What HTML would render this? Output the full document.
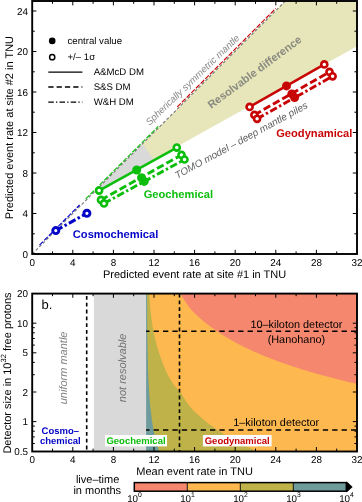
<!DOCTYPE html>
<html><head><meta charset="utf-8"><title>fig</title><style>html,body{margin:0;padding:0;background:#fff}body{width:362px;height:502px;overflow:hidden;font-family:"Liberation Sans",sans-serif}</style></head><body>
<svg width="362" height="502" viewBox="0 0 362 502" style="display:block;will-change:transform" text-rendering="geometricPrecision" font-family="Liberation Sans, sans-serif">
<rect width="362" height="502" fill="#fff"/>
<defs><clipPath id="ct"><rect x="32.2" y="1.2" width="324.8" height="252.8"/></clipPath>
<clipPath id="cb"><rect x="32.2" y="293.6" width="324.8" height="157.6"/></clipPath></defs>
<polygon points="92.8,193.5 285.2,1.2 357.0,1.2 357.0,46.2" fill="#e6e6ba"/>
<polygon points="92.8,193.5 142.4,143.9 153.6,159.6" fill="#d9d9d9"/>
<g clip-path="url(#ct)">
<line x1="32.2" y1="254.0" x2="285.2" y2="1.2" stroke="#787878" stroke-width="1.1" stroke-dasharray="3 2"/>
<line x1="39.5" y1="245.1" x2="79.6" y2="205.0" stroke="#0505c8" stroke-width="1.15" stroke-dasharray="5 1.6"/>
<line x1="85.7" y1="198.9" x2="158.3" y2="126.4" stroke="#0cbe0c" stroke-width="1.15" stroke-dasharray="5 1.6"/>
<line x1="177.3" y1="106.9" x2="275.7" y2="8.5" stroke="#c80505" stroke-width="1.15" stroke-dasharray="5 1.6"/>
</g>
<line x1="249.6" y1="106.9" x2="324.3" y2="64.4" stroke="#c80505" stroke-width="2.5"/>
<circle cx="249.6" cy="106.9" r="3.05" fill="#fff" stroke="#c80505" stroke-width="2.6"/>
<circle cx="324.3" cy="64.4" r="3.05" fill="#fff" stroke="#c80505" stroke-width="2.6"/>
<circle cx="286.5" cy="85.9" r="4.5" fill="#c80505"/>
<line x1="254.4" y1="114.9" x2="329.5" y2="71.9" stroke="#c80505" stroke-width="2.9" stroke-dasharray="7.5 3.2"/>
<circle cx="254.4" cy="114.9" r="3.05" fill="#fff" stroke="#c80505" stroke-width="2.6"/>
<circle cx="329.5" cy="71.9" r="3.05" fill="#fff" stroke="#c80505" stroke-width="2.6"/>
<circle cx="291.8" cy="93.9" r="4.5" fill="#c80505"/>
<line x1="257.1" y1="118.8" x2="332.6" y2="76.3" stroke="#c80505" stroke-width="2.9" stroke-dasharray="7.5 2.6 2.4 2.6"/>
<circle cx="257.1" cy="118.8" r="3.05" fill="#fff" stroke="#c80505" stroke-width="2.6"/>
<circle cx="332.6" cy="76.3" r="3.05" fill="#fff" stroke="#c80505" stroke-width="2.6"/>
<circle cx="294.6" cy="97.6" r="4.5" fill="#c80505"/>
<line x1="99.1" y1="190.6" x2="176.8" y2="147.6" stroke="#0cbe0c" stroke-width="2.5"/>
<circle cx="99.1" cy="190.6" r="3.05" fill="#fff" stroke="#0cbe0c" stroke-width="2.6"/>
<circle cx="176.8" cy="147.6" r="3.05" fill="#fff" stroke="#0cbe0c" stroke-width="2.6"/>
<circle cx="136.7" cy="170.0" r="4.5" fill="#0cbe0c"/>
<line x1="101.0" y1="199.9" x2="181.5" y2="154.9" stroke="#0cbe0c" stroke-width="2.9" stroke-dasharray="7.5 3.2"/>
<circle cx="101.0" cy="199.9" r="3.05" fill="#fff" stroke="#0cbe0c" stroke-width="2.6"/>
<circle cx="181.5" cy="154.9" r="3.05" fill="#fff" stroke="#0cbe0c" stroke-width="2.6"/>
<circle cx="141.5" cy="177.7" r="4.5" fill="#0cbe0c"/>
<line x1="104.0" y1="203.4" x2="184.5" y2="159.5" stroke="#0cbe0c" stroke-width="2.9" stroke-dasharray="7.5 2.6 2.4 2.6"/>
<circle cx="104.0" cy="203.4" r="3.05" fill="#fff" stroke="#0cbe0c" stroke-width="2.6"/>
<circle cx="184.5" cy="159.5" r="3.05" fill="#fff" stroke="#0cbe0c" stroke-width="2.6"/>
<circle cx="144.2" cy="181.4" r="4.5" fill="#0cbe0c"/>
<line x1="55.8" y1="230.6" x2="86.9" y2="213.3" stroke="#0505c8" stroke-width="3.1" stroke-dasharray="7.5 2.5 2.5 2.5"/>
<circle cx="55.8" cy="230.6" r="3.05" fill="#fff" stroke="#0505c8" stroke-width="2.9"/>
<circle cx="86.9" cy="213.3" r="3.05" fill="#fff" stroke="#0505c8" stroke-width="2.9"/>
<rect x="32.2" y="1.0" width="324.8" height="253.0" fill="none" stroke="#000" stroke-width="1.9"/>
<line x1="52.5" y1="254.0" x2="52.5" y2="251.4" stroke="#000" stroke-width="1.0"/>
<line x1="52.5" y1="1.2" x2="52.5" y2="3.8" stroke="#000" stroke-width="1.0"/>
<line x1="72.8" y1="254.0" x2="72.8" y2="249.8" stroke="#000" stroke-width="1.0"/>
<line x1="72.8" y1="1.2" x2="72.8" y2="5.4" stroke="#000" stroke-width="1.0"/>
<line x1="93.1" y1="254.0" x2="93.1" y2="251.4" stroke="#000" stroke-width="1.0"/>
<line x1="93.1" y1="1.2" x2="93.1" y2="3.8" stroke="#000" stroke-width="1.0"/>
<line x1="113.4" y1="254.0" x2="113.4" y2="249.8" stroke="#000" stroke-width="1.0"/>
<line x1="113.4" y1="1.2" x2="113.4" y2="5.4" stroke="#000" stroke-width="1.0"/>
<line x1="133.7" y1="254.0" x2="133.7" y2="251.4" stroke="#000" stroke-width="1.0"/>
<line x1="133.7" y1="1.2" x2="133.7" y2="3.8" stroke="#000" stroke-width="1.0"/>
<line x1="154.0" y1="254.0" x2="154.0" y2="249.8" stroke="#000" stroke-width="1.0"/>
<line x1="154.0" y1="1.2" x2="154.0" y2="5.4" stroke="#000" stroke-width="1.0"/>
<line x1="174.3" y1="254.0" x2="174.3" y2="251.4" stroke="#000" stroke-width="1.0"/>
<line x1="174.3" y1="1.2" x2="174.3" y2="3.8" stroke="#000" stroke-width="1.0"/>
<line x1="194.6" y1="254.0" x2="194.6" y2="249.8" stroke="#000" stroke-width="1.0"/>
<line x1="194.6" y1="1.2" x2="194.6" y2="5.4" stroke="#000" stroke-width="1.0"/>
<line x1="214.9" y1="254.0" x2="214.9" y2="251.4" stroke="#000" stroke-width="1.0"/>
<line x1="214.9" y1="1.2" x2="214.9" y2="3.8" stroke="#000" stroke-width="1.0"/>
<line x1="235.2" y1="254.0" x2="235.2" y2="249.8" stroke="#000" stroke-width="1.0"/>
<line x1="235.2" y1="1.2" x2="235.2" y2="5.4" stroke="#000" stroke-width="1.0"/>
<line x1="255.5" y1="254.0" x2="255.5" y2="251.4" stroke="#000" stroke-width="1.0"/>
<line x1="255.5" y1="1.2" x2="255.5" y2="3.8" stroke="#000" stroke-width="1.0"/>
<line x1="275.8" y1="254.0" x2="275.8" y2="249.8" stroke="#000" stroke-width="1.0"/>
<line x1="275.8" y1="1.2" x2="275.8" y2="5.4" stroke="#000" stroke-width="1.0"/>
<line x1="296.1" y1="254.0" x2="296.1" y2="251.4" stroke="#000" stroke-width="1.0"/>
<line x1="296.1" y1="1.2" x2="296.1" y2="3.8" stroke="#000" stroke-width="1.0"/>
<line x1="316.4" y1="254.0" x2="316.4" y2="249.8" stroke="#000" stroke-width="1.0"/>
<line x1="316.4" y1="1.2" x2="316.4" y2="5.4" stroke="#000" stroke-width="1.0"/>
<line x1="336.7" y1="254.0" x2="336.7" y2="251.4" stroke="#000" stroke-width="1.0"/>
<line x1="336.7" y1="1.2" x2="336.7" y2="3.8" stroke="#000" stroke-width="1.0"/>
<line x1="32.2" y1="233.8" x2="34.8" y2="233.8" stroke="#000" stroke-width="1.0"/>
<line x1="357.0" y1="233.8" x2="354.4" y2="233.8" stroke="#000" stroke-width="1.0"/>
<line x1="32.2" y1="213.5" x2="36.4" y2="213.5" stroke="#000" stroke-width="1.0"/>
<line x1="357.0" y1="213.5" x2="352.8" y2="213.5" stroke="#000" stroke-width="1.0"/>
<line x1="32.2" y1="193.2" x2="34.8" y2="193.2" stroke="#000" stroke-width="1.0"/>
<line x1="357.0" y1="193.2" x2="354.4" y2="193.2" stroke="#000" stroke-width="1.0"/>
<line x1="32.2" y1="173.0" x2="36.4" y2="173.0" stroke="#000" stroke-width="1.0"/>
<line x1="357.0" y1="173.0" x2="352.8" y2="173.0" stroke="#000" stroke-width="1.0"/>
<line x1="32.2" y1="152.8" x2="34.8" y2="152.8" stroke="#000" stroke-width="1.0"/>
<line x1="357.0" y1="152.8" x2="354.4" y2="152.8" stroke="#000" stroke-width="1.0"/>
<line x1="32.2" y1="132.5" x2="36.4" y2="132.5" stroke="#000" stroke-width="1.0"/>
<line x1="357.0" y1="132.5" x2="352.8" y2="132.5" stroke="#000" stroke-width="1.0"/>
<line x1="32.2" y1="112.2" x2="34.8" y2="112.2" stroke="#000" stroke-width="1.0"/>
<line x1="357.0" y1="112.2" x2="354.4" y2="112.2" stroke="#000" stroke-width="1.0"/>
<line x1="32.2" y1="92.0" x2="36.4" y2="92.0" stroke="#000" stroke-width="1.0"/>
<line x1="357.0" y1="92.0" x2="352.8" y2="92.0" stroke="#000" stroke-width="1.0"/>
<line x1="32.2" y1="71.8" x2="34.8" y2="71.8" stroke="#000" stroke-width="1.0"/>
<line x1="357.0" y1="71.8" x2="354.4" y2="71.8" stroke="#000" stroke-width="1.0"/>
<line x1="32.2" y1="51.5" x2="36.4" y2="51.5" stroke="#000" stroke-width="1.0"/>
<line x1="357.0" y1="51.5" x2="352.8" y2="51.5" stroke="#000" stroke-width="1.0"/>
<line x1="32.2" y1="31.2" x2="34.8" y2="31.2" stroke="#000" stroke-width="1.0"/>
<line x1="357.0" y1="31.2" x2="354.4" y2="31.2" stroke="#000" stroke-width="1.0"/>
<line x1="32.2" y1="11.0" x2="36.4" y2="11.0" stroke="#000" stroke-width="1.0"/>
<line x1="357.0" y1="11.0" x2="352.8" y2="11.0" stroke="#000" stroke-width="1.0"/>
<text x="32.2" y="266.4" font-size="9.9" text-anchor="middle">0</text>
<text x="72.8" y="266.4" font-size="9.9" text-anchor="middle">4</text>
<text x="113.4" y="266.4" font-size="9.9" text-anchor="middle">8</text>
<text x="154.0" y="266.4" font-size="9.9" text-anchor="middle">12</text>
<text x="194.6" y="266.4" font-size="9.9" text-anchor="middle">16</text>
<text x="235.2" y="266.4" font-size="9.9" text-anchor="middle">20</text>
<text x="275.8" y="266.4" font-size="9.9" text-anchor="middle">24</text>
<text x="316.4" y="266.4" font-size="9.9" text-anchor="middle">28</text>
<text x="357.0" y="266.4" font-size="9.9" text-anchor="middle">32</text>
<text x="28.0" y="257.6" font-size="9.9" text-anchor="end">0</text>
<text x="28.0" y="217.1" font-size="9.9" text-anchor="end">4</text>
<text x="28.0" y="176.6" font-size="9.9" text-anchor="end">8</text>
<text x="28.0" y="136.1" font-size="9.9" text-anchor="end">12</text>
<text x="28.0" y="95.6" font-size="9.9" text-anchor="end">16</text>
<text x="28.0" y="55.1" font-size="9.9" text-anchor="end">20</text>
<text x="28.0" y="14.6" font-size="9.9" text-anchor="end">24</text>
<text x="194.6" y="277.5" font-size="11" text-anchor="middle">Predicted event rate at site #1 in TNU</text>
<text transform="translate(13.3,127.6) rotate(-90)" font-size="11" text-anchor="middle">Predicted event rate at site #2 in TNU</text>
<circle cx="52.2" cy="40.9" r="3.3" fill="#000"/>
<circle cx="52.2" cy="57.2" r="2.6" fill="#fff" stroke="#000" stroke-width="1.5"/>
<text x="67.5" y="43.9" font-size="9.65">central value</text>
<text x="67.5" y="59.8" font-size="9.65">+/– 1σ</text>
<line x1="48.3" y1="72.1" x2="82.4" y2="72.1" stroke="#000" stroke-width="1.3"/>
<line x1="48.3" y1="87" x2="82.4" y2="87" stroke="#000" stroke-width="1.3" stroke-dasharray="5.3 3"/>
<line x1="48.3" y1="102.2" x2="82.4" y2="102.2" stroke="#000" stroke-width="1.3" stroke-dasharray="5.5 2.2 1.3 2.2"/>
<text x="93.7" y="75.3" font-size="9.65">A&amp;McD DM</text>
<text x="93.7" y="90.2" font-size="9.65">S&amp;S DM</text>
<text x="93.7" y="105.4" font-size="9.65">W&amp;H DM</text>
<text transform="translate(149.4,126.0) rotate(-43.9)" font-size="9.7" font-style="italic" fill="#8c8c8c">Spherically symmetric mantle</text>
<text transform="translate(211.2,109.0) rotate(-36.6)" font-size="11" font-weight="bold" fill="#8a8a80">Resolvable difference</text>
<text transform="translate(177.3,178.9) rotate(-28.6)" font-size="10" font-style="italic" fill="#606060">TOMO model – deep mantle piles</text>
<text x="276.2" y="137.2" font-size="11.15" font-weight="bold" fill="#c80505">Geodynamical</text>
<text x="143.7" y="198.2" font-size="11.15" font-weight="bold" fill="#0cbe0c">Geochemical</text>
<text x="72.8" y="238.0" font-size="11.15" font-weight="bold" fill="#0505c8">Cosmochemical</text>
<g clip-path="url(#cb)">
<rect x="93.9" y="293.6" width="52.2" height="157.6" fill="#d9d9d9"/>
<rect x="146.1" y="293.6" width="210.9" height="157.6" fill="#6e9b9b"/>
<polygon points="146.2,288.6 146.2,288.6 146.2,288.6 146.3,288.6 146.4,288.6 146.5,288.6 146.6,288.6 146.7,288.6 146.8,288.6 146.9,288.6 147.0,288.6 147.1,305.1 147.2,321.0 147.3,331.5 147.4,339.3 147.5,345.6 147.6,350.9 147.7,355.4 147.8,359.4 147.9,362.9 147.9,366.1 148.0,369.0 148.1,371.7 148.2,374.2 148.3,376.5 148.4,378.7 148.5,380.8 148.6,382.7 148.7,384.5 148.8,386.3 148.9,388.0 149.0,389.5 149.1,391.1 149.2,392.5 149.3,393.9 149.4,395.3 149.5,396.6 149.6,397.9 149.7,399.1 149.7,400.3 149.8,401.4 149.9,402.5 150.0,403.6 150.1,404.6 150.2,405.7 150.3,406.6 150.4,407.6 150.5,408.6 150.6,409.5 150.7,410.4 150.8,411.2 150.9,412.1 151.0,412.9 151.1,413.7 151.2,414.5 151.3,415.3 151.4,416.1 151.5,416.8 151.5,417.6 151.6,418.3 151.7,419.0 151.8,419.6 151.9,420.3 152.0,421.0 152.1,421.6 152.2,422.3 152.3,422.9 152.4,423.5 152.5,424.1 152.6,424.7 152.7,425.2 152.8,425.8 152.9,426.3 153.0,426.9 153.1,427.4 153.2,427.9 153.3,428.5 153.3,429.0 153.4,429.5 153.5,430.0 153.6,430.4 153.7,430.9 153.8,431.4 153.9,431.8 154.0,432.3 154.1,432.7 154.2,433.2 154.3,433.6 154.4,434.0 154.5,434.5 154.6,434.9 154.7,435.3 154.8,435.7 154.9,436.1 155.0,436.5 155.1,436.9 155.1,437.3 155.2,437.6 155.3,438.0 155.4,438.4 155.5,438.8 155.6,439.1 155.7,439.5 155.8,439.9 155.9,440.2 156.0,440.6 156.1,440.9 156.2,441.3 156.3,441.6 156.4,442.0 156.5,442.3 156.6,442.7 156.7,443.0 156.8,443.4 156.9,443.7 156.9,444.0 157.0,444.4 157.1,444.7 157.2,445.0 157.3,445.3 157.4,445.7 157.5,446.0 157.6,446.3 157.7,446.6 157.8,446.9 157.9,447.3 158.0,447.6 158.1,447.9 158.2,448.2 158.3,448.5 158.4,448.8 158.5,449.1 158.6,449.4 158.7,449.7 158.7,450.1 158.8,450.4 158.9,450.7 159.0,451.0 159.1,451.3 159.2,451.5 159.3,451.8 159.4,452.1 159.5,452.4 159.6,452.7 159.7,453.0 159.8,453.3 159.9,453.6 160.0,453.9 160.1,454.2 160.2,454.4 160.3,454.7 160.4,455.0 160.5,455.3 160.5,455.5 160.6,455.8 160.7,456.1 160.8,456.2 160.9,456.2 161.0,456.2 161.1,456.2 161.2,456.2 161.3,456.2 161.4,456.2 161.5,456.2 161.6,456.2 161.7,456.2 161.8,456.2 161.9,456.2 162.0,456.2 162.1,456.2 162.2,456.2 162.3,456.2 162.3,456.2 162.4,456.2 162.5,456.2 162.6,456.2 162.7,456.2 162.8,456.2 162.9,456.2 163.0,456.2 163.1,456.2 163.2,456.2 163.3,456.2 163.4,456.2 163.5,456.2 163.6,456.2 163.7,456.2 163.8,456.2 163.9,456.2 164.0,456.2 164.1,456.2 164.1,456.2 164.2,456.2 164.3,456.2 164.4,456.2 164.5,456.2 164.6,456.2 164.7,456.2 164.8,456.2 164.9,456.2 165.0,456.2 165.0,456.2 166.0,456.2 166.9,456.2 167.9,456.2 168.9,456.2 169.8,456.2 170.8,456.2 171.8,456.2 172.7,456.2 173.7,456.2 174.6,456.2 175.6,456.2 176.6,456.2 177.5,456.2 178.5,456.2 179.5,456.2 180.4,456.2 181.4,456.2 182.4,456.2 183.3,456.2 184.3,456.2 185.3,456.2 186.2,456.2 187.2,456.2 188.2,456.2 189.1,456.2 190.1,456.2 191.1,456.2 192.0,456.2 193.0,456.2 193.9,456.2 194.9,456.2 195.9,456.2 196.8,456.2 197.8,456.2 198.8,456.2 199.7,456.2 200.7,456.2 201.7,456.2 202.6,456.2 203.6,456.2 204.6,456.2 205.5,456.2 206.5,456.2 207.5,456.2 208.4,456.2 209.4,456.2 210.3,456.2 211.3,456.2 212.3,456.2 213.2,456.2 214.2,456.2 215.2,456.2 216.1,456.2 217.1,456.2 218.1,456.2 219.0,456.2 220.0,456.2 221.0,456.2 221.9,456.2 222.9,456.2 223.9,456.2 224.8,456.2 225.8,456.2 226.7,456.2 227.7,456.2 228.7,456.2 229.6,456.2 230.6,456.2 231.6,456.2 232.5,456.2 233.5,456.2 234.5,456.2 235.4,456.2 236.4,456.2 237.4,456.2 238.3,456.2 239.3,456.2 240.3,456.2 241.2,456.2 242.2,456.2 243.2,456.2 244.1,456.2 245.1,456.2 246.0,456.2 247.0,456.2 248.0,456.2 248.9,456.2 249.9,456.2 250.9,456.2 251.8,456.2 252.8,456.2 253.8,456.2 254.7,456.2 255.7,456.2 256.7,456.2 257.6,456.2 258.6,456.2 259.6,456.2 260.5,456.2 261.5,456.2 262.4,456.2 263.4,456.2 264.4,456.2 265.3,456.2 266.3,456.2 267.3,456.2 268.2,456.2 269.2,456.2 270.2,456.2 271.1,456.2 272.1,456.2 273.1,456.2 274.0,456.2 275.0,456.2 276.0,456.2 276.9,456.2 277.9,456.2 278.8,456.2 279.8,456.2 280.8,456.2 281.7,456.2 282.7,456.2 283.7,456.2 284.6,456.2 285.6,456.2 286.6,456.2 287.5,456.2 288.5,456.2 289.5,456.2 290.4,456.2 291.4,456.2 292.4,456.2 293.3,456.2 294.3,456.2 295.3,456.2 296.2,456.2 297.2,456.2 298.1,456.2 299.1,456.2 300.1,456.2 301.0,456.2 302.0,456.2 303.0,456.2 303.9,456.2 304.9,456.2 305.9,456.2 306.8,456.2 307.8,456.2 308.8,456.2 309.7,456.2 310.7,456.2 311.7,456.2 312.6,456.2 313.6,456.2 314.5,456.2 315.5,456.2 316.5,456.2 317.4,456.2 318.4,456.2 319.4,456.2 320.3,456.2 321.3,456.2 322.3,456.2 323.2,456.2 324.2,456.2 325.2,456.2 326.1,456.2 327.1,456.2 328.1,456.2 329.0,456.2 330.0,456.2 330.9,456.2 331.9,456.2 332.9,456.2 333.8,456.2 334.8,456.2 335.8,456.2 336.7,456.2 337.7,456.2 338.7,456.2 339.6,456.2 340.6,456.2 341.6,456.2 342.5,456.2 343.5,456.2 344.5,456.2 345.4,456.2 346.4,456.2 347.4,456.2 348.3,456.2 349.3,456.2 350.2,456.2 351.2,456.2 352.2,456.2 353.1,456.2 354.1,456.2 355.1,456.2 356.0,456.2 357.0,456.2 359.0,456.2 359.0,288.6" fill="#beb248"/>
<polygon points="146.2,288.6 146.2,288.6 146.2,288.6 146.3,288.6 146.4,288.6 146.5,288.6 146.6,288.6 146.7,288.6 146.8,288.6 146.9,288.6 147.0,288.6 147.1,288.6 147.2,288.6 147.3,288.6 147.4,288.6 147.5,288.6 147.6,288.6 147.7,288.6 147.8,288.6 147.9,288.6 147.9,288.6 148.0,288.6 148.1,288.6 148.2,288.6 148.3,288.6 148.4,288.6 148.5,288.6 148.6,288.6 148.7,288.6 148.8,288.6 148.9,289.6 149.0,291.1 149.1,292.7 149.2,294.1 149.3,295.5 149.4,296.9 149.5,298.2 149.6,299.5 149.7,300.7 149.7,301.9 149.8,303.0 149.9,304.1 150.0,305.2 150.1,306.2 150.2,307.3 150.3,308.2 150.4,309.2 150.5,310.2 150.6,311.1 150.7,312.0 150.8,312.8 150.9,313.7 151.0,314.5 151.1,315.3 151.2,316.1 151.3,316.9 151.4,317.7 151.5,318.4 151.5,319.2 151.6,319.9 151.7,320.6 151.8,321.2 151.9,321.9 152.0,322.6 152.1,323.2 152.2,323.9 152.3,324.5 152.4,325.1 152.5,325.7 152.6,326.3 152.7,326.8 152.8,327.4 152.9,327.9 153.0,328.5 153.1,329.0 153.2,329.5 153.3,330.1 153.3,330.6 153.4,331.1 153.5,331.6 153.6,332.0 153.7,332.5 153.8,333.0 153.9,333.4 154.0,333.9 154.1,334.3 154.2,334.8 154.3,335.2 154.4,335.6 154.5,336.1 154.6,336.5 154.7,336.9 154.8,337.3 154.9,337.7 155.0,338.1 155.1,338.5 155.1,338.9 155.2,339.2 155.3,339.6 155.4,340.0 155.5,340.4 155.6,340.7 155.7,341.1 155.8,341.5 155.9,341.8 156.0,342.2 156.1,342.5 156.2,342.9 156.3,343.2 156.4,343.6 156.5,343.9 156.6,344.3 156.7,344.6 156.8,345.0 156.9,345.3 156.9,345.6 157.0,346.0 157.1,346.3 157.2,346.6 157.3,346.9 157.4,347.3 157.5,347.6 157.6,347.9 157.7,348.2 157.8,348.5 157.9,348.9 158.0,349.2 158.1,349.5 158.2,349.8 158.3,350.1 158.4,350.4 158.5,350.7 158.6,351.0 158.7,351.3 158.7,351.7 158.8,352.0 158.9,352.3 159.0,352.6 159.1,352.9 159.2,353.1 159.3,353.4 159.4,353.7 159.5,354.0 159.6,354.3 159.7,354.6 159.8,354.9 159.9,355.2 160.0,355.5 160.1,355.8 160.2,356.0 160.3,356.3 160.4,356.6 160.5,356.9 160.5,357.1 160.6,357.4 160.7,357.7 160.8,358.0 160.9,358.2 161.0,358.5 161.1,358.8 161.2,359.0 161.3,359.3 161.4,359.6 161.5,359.8 161.6,360.1 161.7,360.4 161.8,360.6 161.9,360.9 162.0,361.1 162.1,361.4 162.2,361.6 162.3,361.9 162.3,362.1 162.4,362.4 162.5,362.6 162.6,362.9 162.7,363.1 162.8,363.4 162.9,363.6 163.0,363.9 163.1,364.1 163.2,364.3 163.3,364.6 163.4,364.8 163.5,365.1 163.6,365.3 163.7,365.5 163.8,365.8 163.9,366.0 164.0,366.2 164.1,366.4 164.1,366.7 164.2,366.9 164.3,367.1 164.4,367.4 164.5,367.6 164.6,367.8 164.7,368.0 164.8,368.2 164.9,368.5 165.0,368.7 165.0,368.7 166.0,370.9 166.9,372.9 167.9,374.9 168.9,376.8 169.8,378.6 170.8,380.3 171.8,381.8 172.7,383.3 173.7,384.6 174.6,385.9 175.6,387.0 176.6,388.0 177.5,389.1 178.5,390.1 179.5,391.2 180.4,392.5 181.4,393.8 182.4,395.3 183.3,396.8 184.3,398.4 185.3,399.9 186.2,401.5 187.2,402.9 188.2,404.3 189.1,405.5 190.1,406.7 191.1,407.8 192.0,408.9 193.0,409.9 193.9,410.9 194.9,411.9 195.9,412.8 196.8,413.7 197.8,414.6 198.8,415.5 199.7,416.3 200.7,417.2 201.7,418.0 202.6,418.8 203.6,419.6 204.6,420.4 205.5,421.2 206.5,422.0 207.5,422.7 208.4,423.5 209.4,424.2 210.3,424.9 211.3,425.6 212.3,426.3 213.2,427.0 214.2,427.7 215.2,428.4 216.1,429.1 217.1,429.7 218.1,430.4 219.0,431.0 220.0,431.6 221.0,432.3 221.9,432.9 222.9,433.5 223.9,434.1 224.8,434.7 225.8,435.3 226.7,435.9 227.7,436.4 228.7,437.0 229.6,437.6 230.6,438.1 231.6,438.7 232.5,439.2 233.5,439.7 234.5,440.3 235.4,440.8 236.4,441.3 237.4,441.8 238.3,442.3 239.3,442.8 240.3,443.3 241.2,443.8 242.2,444.3 243.2,444.8 244.1,445.3 245.1,445.8 246.0,446.2 247.0,446.7 248.0,447.2 248.9,447.6 249.9,448.1 250.9,448.5 251.8,449.0 252.8,449.4 253.8,449.8 254.7,450.3 255.7,450.7 256.7,451.1 257.6,451.5 258.6,451.9 259.6,452.4 260.5,452.8 261.5,453.2 262.4,453.6 263.4,454.0 264.4,454.4 265.3,454.8 266.3,455.2 267.3,455.6 268.2,455.9 269.2,456.2 270.2,456.2 271.1,456.2 272.1,456.2 273.1,456.2 274.0,456.2 275.0,456.2 276.0,456.2 276.9,456.2 277.9,456.2 278.8,456.2 279.8,456.2 280.8,456.2 281.7,456.2 282.7,456.2 283.7,456.2 284.6,456.2 285.6,456.2 286.6,456.2 287.5,456.2 288.5,456.2 289.5,456.2 290.4,456.2 291.4,456.2 292.4,456.2 293.3,456.2 294.3,456.2 295.3,456.2 296.2,456.2 297.2,456.2 298.1,456.2 299.1,456.2 300.1,456.2 301.0,456.2 302.0,456.2 303.0,456.2 303.9,456.2 304.9,456.2 305.9,456.2 306.8,456.2 307.8,456.2 308.8,456.2 309.7,456.2 310.7,456.2 311.7,456.2 312.6,456.2 313.6,456.2 314.5,456.2 315.5,456.2 316.5,456.2 317.4,456.2 318.4,456.2 319.4,456.2 320.3,456.2 321.3,456.2 322.3,456.2 323.2,456.2 324.2,456.2 325.2,456.2 326.1,456.2 327.1,456.2 328.1,456.2 329.0,456.2 330.0,456.2 330.9,456.2 331.9,456.2 332.9,456.2 333.8,456.2 334.8,456.2 335.8,456.2 336.7,456.2 337.7,456.2 338.7,456.2 339.6,456.2 340.6,456.2 341.6,456.2 342.5,456.2 343.5,456.2 344.5,456.2 345.4,456.2 346.4,456.2 347.4,456.2 348.3,456.2 349.3,456.2 350.2,456.2 351.2,456.2 352.2,456.2 353.1,456.2 354.1,456.2 355.1,456.2 356.0,456.2 357.0,456.2 359.0,456.2 359.0,288.6" fill="#feb850"/>
<polygon points="146.2,288.6 146.2,288.6 146.2,288.6 146.3,288.6 146.4,288.6 146.5,288.6 146.6,288.6 146.7,288.6 146.8,288.6 146.9,288.6 147.0,288.6 147.1,288.6 147.2,288.6 147.3,288.6 147.4,288.6 147.5,288.6 147.6,288.6 147.7,288.6 147.8,288.6 147.9,288.6 147.9,288.6 148.0,288.6 148.1,288.6 148.2,288.6 148.3,288.6 148.4,288.6 148.5,288.6 148.6,288.6 148.7,288.6 148.8,288.6 148.9,288.6 149.0,288.6 149.1,288.6 149.2,288.6 149.3,288.6 149.4,288.6 149.5,288.6 149.6,288.6 149.7,288.6 149.7,288.6 149.8,288.6 149.9,288.6 150.0,288.6 150.1,288.6 150.2,288.6 150.3,288.6 150.4,288.6 150.5,288.6 150.6,288.6 150.7,288.6 150.8,288.6 150.9,288.6 151.0,288.6 151.1,288.6 151.2,288.6 151.3,288.6 151.4,288.6 151.5,288.6 151.5,288.6 151.6,288.6 151.7,288.6 151.8,288.6 151.9,288.6 152.0,288.6 152.1,288.6 152.2,288.6 152.3,288.6 152.4,288.6 152.5,288.6 152.6,288.6 152.7,288.6 152.8,288.6 152.9,288.6 153.0,288.6 153.1,288.6 153.2,288.6 153.3,288.6 153.3,288.6 153.4,288.6 153.5,288.6 153.6,288.6 153.7,288.6 153.8,288.6 153.9,288.6 154.0,288.6 154.1,288.6 154.2,288.6 154.3,288.6 154.4,288.6 154.5,288.6 154.6,288.6 154.7,288.6 154.8,288.6 154.9,288.6 155.0,288.6 155.1,288.6 155.1,288.6 155.2,288.6 155.3,288.6 155.4,288.6 155.5,288.6 155.6,288.6 155.7,288.6 155.8,288.6 155.9,288.6 156.0,288.6 156.1,288.6 156.2,288.6 156.3,288.6 156.4,288.6 156.5,288.6 156.6,288.6 156.7,288.6 156.8,288.6 156.9,288.6 156.9,288.6 157.0,288.6 157.1,288.6 157.2,288.6 157.3,288.6 157.4,288.6 157.5,288.6 157.6,288.6 157.7,288.6 157.8,288.6 157.9,288.6 158.0,288.6 158.1,288.6 158.2,288.6 158.3,288.6 158.4,288.6 158.5,288.6 158.6,288.6 158.7,288.6 158.7,288.6 158.8,288.6 158.9,288.6 159.0,288.6 159.1,288.6 159.2,288.6 159.3,288.6 159.4,288.6 159.5,288.6 159.6,288.6 159.7,288.6 159.8,288.6 159.9,288.6 160.0,288.6 160.1,288.6 160.2,288.6 160.3,288.6 160.4,288.6 160.5,288.6 160.5,288.6 160.6,288.6 160.7,288.6 160.8,288.6 160.9,288.6 161.0,288.6 161.1,288.6 161.2,288.6 161.3,288.6 161.4,288.6 161.5,288.6 161.6,288.6 161.7,288.6 161.8,288.6 161.9,288.6 162.0,288.6 162.1,288.6 162.2,288.6 162.3,288.6 162.3,288.6 162.4,288.6 162.5,288.6 162.6,288.6 162.7,288.6 162.8,288.6 162.9,288.6 163.0,288.6 163.1,288.6 163.2,288.6 163.3,288.6 163.4,288.6 163.5,288.6 163.6,288.6 163.7,288.6 163.8,288.6 163.9,288.6 164.0,288.6 164.1,288.6 164.1,288.6 164.2,288.6 164.3,288.6 164.4,288.6 164.5,288.6 164.6,288.6 164.7,288.6 164.8,288.6 164.9,288.6 165.0,288.6 165.0,288.6 166.0,288.6 166.9,288.6 167.9,288.6 168.9,288.6 169.8,288.6 170.8,288.6 171.8,288.6 172.7,288.6 173.7,288.6 174.6,288.6 175.6,288.6 176.6,289.6 177.5,290.7 178.5,291.7 179.5,292.8 180.4,294.1 181.4,295.4 182.4,296.9 183.3,298.4 184.3,300.0 185.3,301.5 186.2,303.1 187.2,304.5 188.2,305.9 189.1,307.1 190.1,308.3 191.1,309.4 192.0,310.5 193.0,311.5 193.9,312.5 194.9,313.5 195.9,314.4 196.8,315.3 197.8,316.2 198.8,317.1 199.7,317.9 200.7,318.8 201.7,319.6 202.6,320.4 203.6,321.2 204.6,322.0 205.5,322.8 206.5,323.6 207.5,324.3 208.4,325.1 209.4,325.8 210.3,326.5 211.3,327.2 212.3,327.9 213.2,328.6 214.2,329.3 215.2,330.0 216.1,330.7 217.1,331.3 218.1,332.0 219.0,332.6 220.0,333.2 221.0,333.9 221.9,334.5 222.9,335.1 223.9,335.7 224.8,336.3 225.8,336.9 226.7,337.5 227.7,338.0 228.7,338.6 229.6,339.2 230.6,339.7 231.6,340.3 232.5,340.8 233.5,341.3 234.5,341.9 235.4,342.4 236.4,342.9 237.4,343.4 238.3,343.9 239.3,344.4 240.3,344.9 241.2,345.4 242.2,345.9 243.2,346.4 244.1,346.9 245.1,347.4 246.0,347.8 247.0,348.3 248.0,348.8 248.9,349.2 249.9,349.7 250.9,350.1 251.8,350.6 252.8,351.0 253.8,351.4 254.7,351.9 255.7,352.3 256.7,352.7 257.6,353.1 258.6,353.5 259.6,354.0 260.5,354.4 261.5,354.8 262.4,355.2 263.4,355.6 264.4,356.0 265.3,356.4 266.3,356.8 267.3,357.2 268.2,357.5 269.2,357.9 270.2,358.3 271.1,358.7 272.1,359.0 273.1,359.4 274.0,359.8 275.0,360.1 276.0,360.5 276.9,360.9 277.9,361.2 278.8,361.6 279.8,361.9 280.8,362.3 281.7,362.6 282.7,363.0 283.7,363.3 284.6,363.6 285.6,364.0 286.6,364.3 287.5,364.6 288.5,365.0 289.5,365.3 290.4,365.6 291.4,365.9 292.4,366.3 293.3,366.6 294.3,366.9 295.3,367.2 296.2,367.5 297.2,367.8 298.1,368.1 299.1,368.5 300.1,368.8 301.0,369.1 302.0,369.4 303.0,369.7 303.9,370.0 304.9,370.2 305.9,370.5 306.8,370.8 307.8,371.1 308.8,371.4 309.7,371.7 310.7,372.0 311.7,372.3 312.6,372.5 313.6,372.8 314.5,373.1 315.5,373.4 316.5,373.7 317.4,373.9 318.4,374.2 319.4,374.5 320.3,374.7 321.3,375.0 322.3,375.3 323.2,375.5 324.2,375.8 325.2,376.1 326.1,376.3 327.1,376.6 328.1,376.8 329.0,377.1 330.0,377.3 330.9,377.6 331.9,377.8 332.9,378.1 333.8,378.3 334.8,378.6 335.8,378.8 336.7,379.1 337.7,379.3 338.7,379.6 339.6,379.8 340.6,380.0 341.6,380.3 342.5,380.5 343.5,380.8 344.5,381.0 345.4,381.2 346.4,381.5 347.4,381.7 348.3,381.9 349.3,382.2 350.2,382.4 351.2,382.6 352.2,382.8 353.1,383.1 354.1,383.3 355.1,383.5 356.0,383.7 357.0,383.9 359.0,383.9 359.0,288.6" fill="#f4876e"/>
</g>
<line x1="86.7" y1="293.6" x2="86.7" y2="451.2" stroke="#000" stroke-width="1.6" stroke-dasharray="3.8 3.0" stroke-dashoffset="4.4"/>
<line x1="179.5" y1="293.6" x2="179.5" y2="451.2" stroke="#000" stroke-width="1.6" stroke-dasharray="3.8 3.0" stroke-dashoffset="0"/>
<line x1="146.1" y1="331.3" x2="357.0" y2="331.3" stroke="#000" stroke-width="1.5" stroke-dasharray="5.3 4.1" stroke-dashoffset="1.9"/>
<line x1="146.1" y1="430.0" x2="357.0" y2="430.0" stroke="#000" stroke-width="1.5" stroke-dasharray="5.3 4.1" stroke-dashoffset="1.9"/>
<rect x="105" y="435" width="62" height="11.4" fill="#fff"/>
<rect x="202.9" y="435" width="68.7" height="11.4" fill="#fff"/>
<text x="136" y="443.8" font-size="9.5" font-weight="bold" text-anchor="middle" fill="#0cbe0c">Geochemical</text>
<text x="237.2" y="443.8" font-size="9.5" font-weight="bold" text-anchor="middle" fill="#c80505">Geodynamical</text>
<text x="60.3" y="433.9" font-size="9.5" font-weight="bold" text-anchor="middle" fill="#0505c8">Cosmo–</text>
<text x="60.3" y="443.8" font-size="9.5" font-weight="bold" text-anchor="middle" fill="#0505c8">chemical</text>
<text x="41.6" y="308.7" font-size="13">b.</text>
<text transform="translate(67,367.9) rotate(-90)" font-size="11" font-style="italic" text-anchor="middle" fill="#808080">uniform mantle</text>
<text transform="translate(126,367.9) rotate(-90)" font-size="11" font-style="italic" text-anchor="middle" fill="#707070">not resolvable</text>
<text x="296.4" y="327.5" font-size="10.9" text-anchor="middle">10–kiloton detector</text>
<text x="296.4" y="342.7" font-size="10.9" text-anchor="middle">(Hanohano)</text>
<text x="276.2" y="426.0" font-size="10.9" text-anchor="middle">1–kiloton detector</text>
<rect x="32.2" y="293.6" width="324.8" height="157.9" fill="none" stroke="#000" stroke-width="1.9"/>
<line x1="52.5" y1="451.2" x2="52.5" y2="448.6" stroke="#000" stroke-width="1.0"/>
<line x1="52.5" y1="293.6" x2="52.5" y2="296.2" stroke="#000" stroke-width="1.0"/>
<line x1="72.8" y1="451.2" x2="72.8" y2="447.0" stroke="#000" stroke-width="1.0"/>
<line x1="72.8" y1="293.6" x2="72.8" y2="297.8" stroke="#000" stroke-width="1.0"/>
<line x1="93.1" y1="451.2" x2="93.1" y2="448.6" stroke="#000" stroke-width="1.0"/>
<line x1="93.1" y1="293.6" x2="93.1" y2="296.2" stroke="#000" stroke-width="1.0"/>
<line x1="113.4" y1="451.2" x2="113.4" y2="447.0" stroke="#000" stroke-width="1.0"/>
<line x1="113.4" y1="293.6" x2="113.4" y2="297.8" stroke="#000" stroke-width="1.0"/>
<line x1="133.7" y1="451.2" x2="133.7" y2="448.6" stroke="#000" stroke-width="1.0"/>
<line x1="133.7" y1="293.6" x2="133.7" y2="296.2" stroke="#000" stroke-width="1.0"/>
<line x1="154.0" y1="451.2" x2="154.0" y2="447.0" stroke="#000" stroke-width="1.0"/>
<line x1="154.0" y1="293.6" x2="154.0" y2="297.8" stroke="#000" stroke-width="1.0"/>
<line x1="174.3" y1="451.2" x2="174.3" y2="448.6" stroke="#000" stroke-width="1.0"/>
<line x1="174.3" y1="293.6" x2="174.3" y2="296.2" stroke="#000" stroke-width="1.0"/>
<line x1="194.6" y1="451.2" x2="194.6" y2="447.0" stroke="#000" stroke-width="1.0"/>
<line x1="194.6" y1="293.6" x2="194.6" y2="297.8" stroke="#000" stroke-width="1.0"/>
<line x1="214.9" y1="451.2" x2="214.9" y2="448.6" stroke="#000" stroke-width="1.0"/>
<line x1="214.9" y1="293.6" x2="214.9" y2="296.2" stroke="#000" stroke-width="1.0"/>
<line x1="235.2" y1="451.2" x2="235.2" y2="447.0" stroke="#000" stroke-width="1.0"/>
<line x1="235.2" y1="293.6" x2="235.2" y2="297.8" stroke="#000" stroke-width="1.0"/>
<line x1="255.5" y1="451.2" x2="255.5" y2="448.6" stroke="#000" stroke-width="1.0"/>
<line x1="255.5" y1="293.6" x2="255.5" y2="296.2" stroke="#000" stroke-width="1.0"/>
<line x1="275.8" y1="451.2" x2="275.8" y2="447.0" stroke="#000" stroke-width="1.0"/>
<line x1="275.8" y1="293.6" x2="275.8" y2="297.8" stroke="#000" stroke-width="1.0"/>
<line x1="296.1" y1="451.2" x2="296.1" y2="448.6" stroke="#000" stroke-width="1.0"/>
<line x1="296.1" y1="293.6" x2="296.1" y2="296.2" stroke="#000" stroke-width="1.0"/>
<line x1="316.4" y1="451.2" x2="316.4" y2="447.0" stroke="#000" stroke-width="1.0"/>
<line x1="316.4" y1="293.6" x2="316.4" y2="297.8" stroke="#000" stroke-width="1.0"/>
<line x1="336.7" y1="451.2" x2="336.7" y2="448.6" stroke="#000" stroke-width="1.0"/>
<line x1="336.7" y1="293.6" x2="336.7" y2="296.2" stroke="#000" stroke-width="1.0"/>
<line x1="32.2" y1="443.5" x2="34.8" y2="443.5" stroke="#000" stroke-width="1.0"/>
<line x1="357.0" y1="443.5" x2="354.4" y2="443.5" stroke="#000" stroke-width="1.0"/>
<line x1="32.2" y1="436.9" x2="34.8" y2="436.9" stroke="#000" stroke-width="1.0"/>
<line x1="357.0" y1="436.9" x2="354.4" y2="436.9" stroke="#000" stroke-width="1.0"/>
<line x1="32.2" y1="431.2" x2="34.8" y2="431.2" stroke="#000" stroke-width="1.0"/>
<line x1="357.0" y1="431.2" x2="354.4" y2="431.2" stroke="#000" stroke-width="1.0"/>
<line x1="32.2" y1="426.1" x2="34.8" y2="426.1" stroke="#000" stroke-width="1.0"/>
<line x1="357.0" y1="426.1" x2="354.4" y2="426.1" stroke="#000" stroke-width="1.0"/>
<line x1="32.2" y1="421.6" x2="36.4" y2="421.6" stroke="#000" stroke-width="1.0"/>
<line x1="357.0" y1="421.6" x2="352.8" y2="421.6" stroke="#000" stroke-width="1.0"/>
<line x1="32.2" y1="392.0" x2="36.4" y2="392.0" stroke="#000" stroke-width="1.0"/>
<line x1="357.0" y1="392.0" x2="352.8" y2="392.0" stroke="#000" stroke-width="1.0"/>
<line x1="32.2" y1="374.7" x2="34.8" y2="374.7" stroke="#000" stroke-width="1.0"/>
<line x1="357.0" y1="374.7" x2="354.4" y2="374.7" stroke="#000" stroke-width="1.0"/>
<line x1="32.2" y1="362.4" x2="34.8" y2="362.4" stroke="#000" stroke-width="1.0"/>
<line x1="357.0" y1="362.4" x2="354.4" y2="362.4" stroke="#000" stroke-width="1.0"/>
<line x1="32.2" y1="352.8" x2="36.4" y2="352.8" stroke="#000" stroke-width="1.0"/>
<line x1="357.0" y1="352.8" x2="352.8" y2="352.8" stroke="#000" stroke-width="1.0"/>
<line x1="32.2" y1="345.1" x2="34.8" y2="345.1" stroke="#000" stroke-width="1.0"/>
<line x1="357.0" y1="345.1" x2="354.4" y2="345.1" stroke="#000" stroke-width="1.0"/>
<line x1="32.2" y1="338.5" x2="34.8" y2="338.5" stroke="#000" stroke-width="1.0"/>
<line x1="357.0" y1="338.5" x2="354.4" y2="338.5" stroke="#000" stroke-width="1.0"/>
<line x1="32.2" y1="332.8" x2="34.8" y2="332.8" stroke="#000" stroke-width="1.0"/>
<line x1="357.0" y1="332.8" x2="354.4" y2="332.8" stroke="#000" stroke-width="1.0"/>
<line x1="32.2" y1="327.7" x2="34.8" y2="327.7" stroke="#000" stroke-width="1.0"/>
<line x1="357.0" y1="327.7" x2="354.4" y2="327.7" stroke="#000" stroke-width="1.0"/>
<line x1="32.2" y1="323.2" x2="36.4" y2="323.2" stroke="#000" stroke-width="1.0"/>
<line x1="357.0" y1="323.2" x2="352.8" y2="323.2" stroke="#000" stroke-width="1.0"/>
<text x="32.2" y="462.6" font-size="9.9" text-anchor="middle">0</text>
<text x="72.8" y="462.6" font-size="9.9" text-anchor="middle">4</text>
<text x="113.4" y="462.6" font-size="9.9" text-anchor="middle">8</text>
<text x="154.0" y="462.6" font-size="9.9" text-anchor="middle">12</text>
<text x="194.6" y="462.6" font-size="9.9" text-anchor="middle">16</text>
<text x="235.2" y="462.6" font-size="9.9" text-anchor="middle">20</text>
<text x="275.8" y="462.6" font-size="9.9" text-anchor="middle">24</text>
<text x="316.4" y="462.6" font-size="9.9" text-anchor="middle">28</text>
<text x="357.0" y="462.6" font-size="9.9" text-anchor="middle">32</text>
<text x="28.0" y="297.2" font-size="9.9" text-anchor="end">20</text>
<text x="28.0" y="326.8" font-size="9.9" text-anchor="end">10</text>
<text x="28.0" y="356.4" font-size="9.9" text-anchor="end">5</text>
<text x="28.0" y="395.6" font-size="9.9" text-anchor="end">2</text>
<text x="28.0" y="425.2" font-size="9.9" text-anchor="end">1</text>
<text x="28.0" y="454.8" font-size="9.9" text-anchor="end">0.5</text>
<text x="194.6" y="474.8" font-size="11" text-anchor="middle">Mean event rate in TNU</text>
<text transform="translate(10.8,373.0) rotate(-90)" font-size="11" text-anchor="middle">Detector size in 10<tspan font-size="7.5" dy="-4.7">32</tspan><tspan dy="4.7"> free protons</tspan></text>
<rect x="134.3" y="482.6" width="53" height="8.6" fill="#f4876e"/>
<rect x="187.3" y="482.6" width="53" height="8.6" fill="#feb850"/>
<rect x="240.3" y="482.6" width="53" height="8.6" fill="#beb248"/>
<rect x="293.3" y="482.6" width="53" height="8.6" fill="#6e9b9b"/>
<rect x="134.3" y="482.6" width="212" height="8.6" fill="none" stroke="#000" stroke-width="1.5"/>
<line x1="187.3" y1="482.6" x2="187.3" y2="491.2" stroke="#000" stroke-width="0.9"/>
<line x1="240.3" y1="482.6" x2="240.3" y2="491.2" stroke="#000" stroke-width="0.9"/>
<line x1="293.3" y1="482.6" x2="293.3" y2="491.2" stroke="#000" stroke-width="0.9"/>
<polygon points="346.6,481.2 352.6,486.9 346.6,492.6" fill="#000"/>
<text x="134.5" y="501.6" font-size="9.8" text-anchor="middle">10<tspan font-size="6.8" dy="-4.2">0</tspan></text>
<text x="187.5" y="501.6" font-size="9.8" text-anchor="middle">10<tspan font-size="6.8" dy="-4.2">1</tspan></text>
<text x="240.5" y="501.6" font-size="9.8" text-anchor="middle">10<tspan font-size="6.8" dy="-4.2">2</tspan></text>
<text x="293.5" y="501.6" font-size="9.8" text-anchor="middle">10<tspan font-size="6.8" dy="-4.2">3</tspan></text>
<text x="346.5" y="501.6" font-size="9.8" text-anchor="middle">10<tspan font-size="6.8" dy="-4.2">4</tspan></text>
<text x="75.9" y="483" font-size="11">live–time</text>
<text x="73.4" y="494.3" font-size="11">in months</text>
</svg>
</body></html>
